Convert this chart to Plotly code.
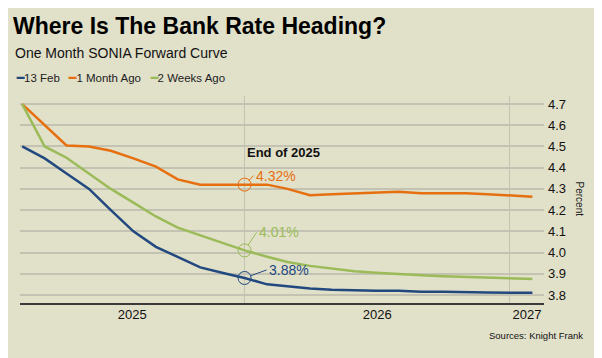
import plotly.graph_objects as go
import pandas as pd

# ---- data ----
months = pd.date_range("2025-03-01", "2027-02-01", freq="MS")
series_names = ["13 Feb", "1 Month Ago", "2 Weeks Ago"]
feb13 = [4.50, 4.444, 4.373, 4.30, 4.20, 4.10, 4.027, 3.98, 3.93, 3.905, 3.88, 3.85,
         3.84, 3.83, 3.825, 3.822, 3.82, 3.82, 3.815, 3.815, 3.812, 3.812, 3.81, 3.81]
month_ago = [4.70, 4.60, 4.505, 4.50, 4.48, 4.444, 4.405, 4.345, 4.32, 4.32, 4.32, 4.32,
             4.30, 4.27, 4.275, 4.28, 4.285, 4.287, 4.28, 4.28, 4.28, 4.275, 4.268, 4.263]
weeks_ago = [4.70, 4.50, 4.447, 4.373, 4.30, 4.235, 4.17, 4.117, 4.08, 4.045, 4.01, 3.98,
             3.955, 3.937, 3.925, 3.912, 3.905, 3.898, 3.893, 3.888, 3.884, 3.881, 3.878, 3.875]
highlight_index = 10          # 2026-01-01 -> "End of 2025"
highlight_title = "End of 2025"
year_labels = ["2025", "2026", "2027"]
year_bounds = ["2026-01-01", "2027-01-01"]
x_range = ["2025-02-26", "2027-02-17"]
y_ticks = [3.8, 3.9, 4.0, 4.1, 4.2, 4.3, 4.4, 4.5, 4.6, 4.7]

# ---- style ----
colors = ["#22497F", "#E66F10", "#9BBB59"]
bg = "#E1E0C9"
grid = "#C4C3B3"
font = "Liberation Sans, Arial, sans-serif"
series = [feb13, month_ago, weeks_ago]

fig = go.Figure()
for name, vals, c in zip(series_names, series, colors):
    fig.add_trace(go.Scatter(x=months, y=vals, mode="lines", name=name,
                             line=dict(color=c, width=2.5), showlegend=False))
for name, vals, c in zip(series_names, series, colors):
    fig.add_trace(go.Scatter(x=[months[highlight_index]], y=[vals[highlight_index]],
                             mode="markers", showlegend=False,
                             marker=dict(symbol="circle-open", size=13, color=c,
                                         line=dict(color=c, width=1))))

# year labels centered within each visible year span
edges = [pd.Timestamp(x_range[0])] + [pd.Timestamp(b) for b in year_bounds] + [pd.Timestamp(x_range[1])]
mids = [edges[i] + (edges[i + 1] - edges[i]) / 2 for i in range(len(year_labels))]

fig.update_xaxes(range=x_range, type="date", tickvals=mids, ticktext=year_labels,
                 showgrid=False, ticks="", showline=True, linecolor="#3A3A3A", linewidth=2,
                 tickfont=dict(size=13, color="#111", family=font), zeroline=False,
                 ticklabelstandoff=-2,
                 minor=dict(tickvals=year_bounds, showgrid=True, gridcolor=grid,
                            gridwidth=1, ticks=""))
fig.update_yaxes(side="right", range=[3.762, 4.738], tickvals=y_ticks,
                 tickformat=".1f", showgrid=True, gridcolor=grid, gridwidth=1.5,
                 zeroline=False, ticks="", ticklabelstandoff=3,
                 tickfont=dict(size=13, color="#111", family=font))

ann = []
# legend as inline text
leg = "   ".join(f"<span style='color:{c}'><b>━</b></span>{n}" for n, c in zip(series_names, colors))
ann.append(dict(xref="paper", yref="paper", x=-0.0115, y=1.087, xanchor="left", yanchor="middle",
                text=leg, showarrow=False, font=dict(size=11.5, color="#222", family=font)))
# highlight labels
offsets = [(22, -8), (9, -9), (12, -18)]
for vals, c, (ax, ay) in zip(series, colors, offsets):
    v = vals[highlight_index]
    ann.append(dict(x=months[highlight_index], y=v, text=f"{v:.2f}%", showarrow=True,
                    arrowhead=0, arrowwidth=1, arrowcolor=c, ax=ax, ay=ay, standoff=6,
                    xanchor="left", yanchor="middle", font=dict(size=14, color=c, family=font)))
ann.append(dict(x=months[highlight_index], y=4.47, text=f"<b>{highlight_title}</b>", showarrow=False,
                xanchor="left", yanchor="middle", font=dict(size=13, color="#111", family=font)))
ann.append(dict(xref="paper", yref="paper", x=1.083, y=0.5, text="Percent", textangle=90,
                showarrow=False, font=dict(size=10, color="#222", family=font)))
ann.append(dict(xref="paper", yref="paper", x=1.078, y=-0.155, xanchor="right", yanchor="middle",
                text="Sources: Knight Frank", showarrow=False,
                font=dict(size=9.5, color="#111", family=font)))
ann.append(dict(xref="paper", yref="paper", x=-0.0134, y=1.21, xanchor="left", yanchor="middle",
                text="One Month SONIA Forward Curve", showarrow=False,
                font=dict(size=14, color="#111", family=font)))

fig.update_layout(
    width=602, height=358, paper_bgcolor=bg, plot_bgcolor=bg,
    margin=dict(l=12, r=66, t=88, b=63),
    title=dict(text="<b>Where Is The Bank Rate Heading?</b>", x=5 / 602, xanchor="left",
               yref="container", y=1 - 18 / 358, yanchor="middle",
               font=dict(size=23, color="#000", family=font)),
    annotations=ann, showlegend=False,
)
fig.write_html("out.html")
